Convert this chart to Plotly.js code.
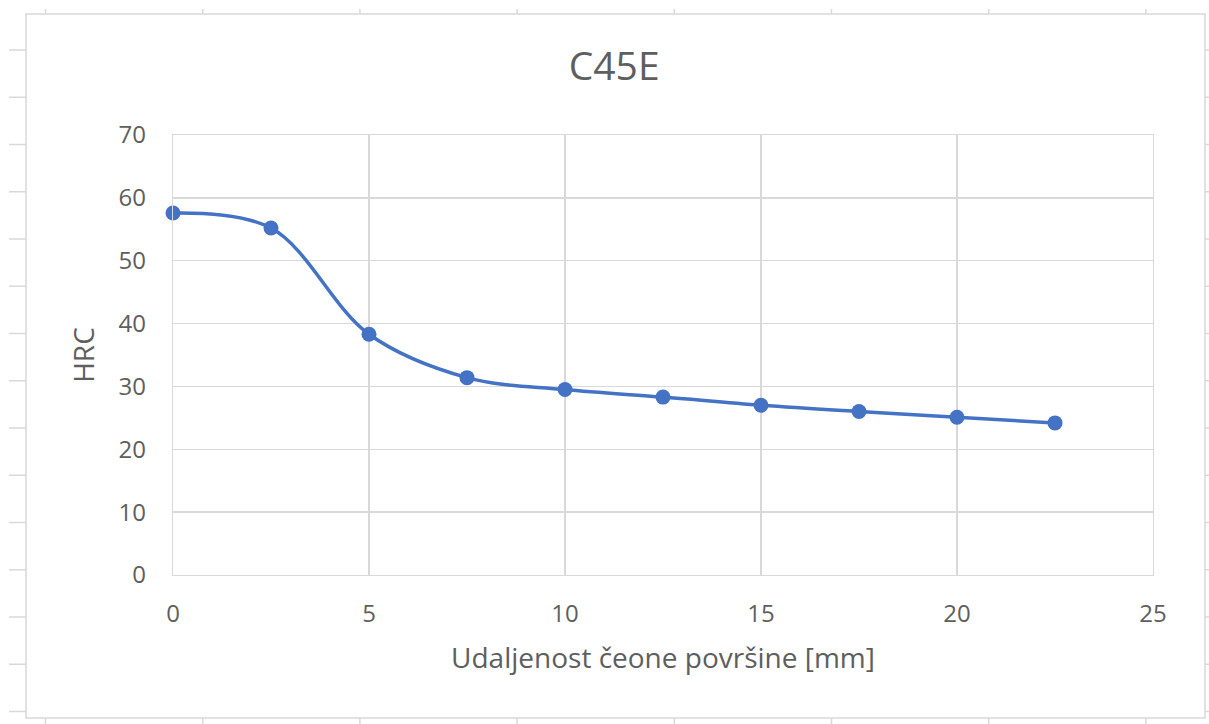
<!DOCTYPE html>
<html>
<head>
<meta charset="utf-8">
<script src="https://cdn.plot.ly/plotly-3.0.1.min.js"></script>
<style>
html,body{margin:0;padding:0;background:#ffffff;}
#chart{width:1209px;height:724px;}
</style>
</head>
<body>
<div id="chart"></div>
<script>
// Data
const distanceMm = [0, 2.5, 5, 7.5, 10, 12.5, 15, 17.5, 20, 22.5];
const hardnessHRC = [57.6, 55.2, 38.3, 31.4, 29.5, 28.3, 27.0, 26.0, 25.1, 24.2];
const xTickValues = [0, 5, 10, 15, 20, 25];
const yTickValues = [0, 10, 20, 30, 40, 50, 60, 70];
const chartTitle = "C45E";
const xAxisTitle = "Udaljenost čeone površine [mm]";
const yAxisTitle = "HRC";

const W = 1209, H = 724;
const L = 173, R = 1153, T = 135, B = 575;
const font = "'Open Sans', 'Noto Sans', sans-serif";
const grey = "#d9d9d9";
const textGrey = "#5e5e5e";

// pixel -> paper helpers (for the decorative chart frame)
const px = x => (x - L) / (R - L);
const py = y => (B - y) / (B - T);

const shapes = [];
// chart frame
shapes.push({type:'rect', xref:'paper', yref:'paper', x0:px(26), x1:px(1205), y0:py(14), y1:py(718),
  line:{color:grey, width:1.5}, fillcolor:'rgba(0,0,0,0)', layer:'below'});
// spreadsheet row ticks (left and right)
for (let k = 0; k <= 14; k++) {
  const y = 50 + 47.25 * k;
  shapes.push({type:'line', xref:'paper', yref:'paper', x0:px(9), x1:px(26), y0:py(y), y1:py(y), line:{color:grey, width:1.5}});
  shapes.push({type:'line', xref:'paper', yref:'paper', x0:px(1205), x1:px(1209), y0:py(y), y1:py(y), line:{color:grey, width:1.5}});
}
// spreadsheet column ticks (top and bottom)
for (let k = 0; k <= 7; k++) {
  const x = 45.5 + 157.2 * k;
  shapes.push({type:'line', xref:'paper', yref:'paper', x0:px(x), x1:px(x), y0:py(9), y1:py(14), line:{color:grey, width:1.5}});
  shapes.push({type:'line', xref:'paper', yref:'paper', x0:px(x), x1:px(x), y0:py(718), y1:py(724), line:{color:grey, width:1.5}});
}

const trace = {
  x: distanceMm,
  y: hardnessHRC,
  type: 'scatter',
  mode: 'lines+markers',
  line: {color:'#4472C4', width:3.5, shape:'spline', smoothing:1},
  marker: {color:'#4472C4', size:15},
  cliponaxis: false,
  hoverinfo: 'x+y'
};

const layout = {
  width: W, height: H,
  margin: {l: L, r: W - R, t: T, b: H - B, pad: 0},
  paper_bgcolor: '#ffffff',
  plot_bgcolor: '#ffffff',
  showlegend: false,
  font: {family: font, color: textGrey, size: 24},
  title: {text: chartTitle, font: {family: font, size: 39, color: textGrey},
          x: 0.508, xanchor: 'center', y: 1 - 66 / H, yanchor: 'middle'},
  xaxis: {
    range: [0, 25], tickvals: xTickValues, ticktext: xTickValues.map(String),
    showgrid: true, gridcolor: grey, gridwidth: 1.3,
    zeroline: false, showline: true, linecolor: grey, linewidth: 1.3, mirror: true,
    ticks: '', ticklabelstandoff: 17,
    tickfont: {family: font, size: 24, color: textGrey},
    title: {text: xAxisTitle, font: {family: font, size: 28, color: textGrey}, standoff: 20}
  },
  yaxis: {
    range: [0, 70], tickvals: yTickValues, ticktext: yTickValues.map(String),
    showgrid: true, gridcolor: grey, gridwidth: 1.3,
    zeroline: false, showline: true, linecolor: grey, linewidth: 1.3, mirror: true,
    ticks: '', ticklabelstandoff: 21,
    tickfont: {family: font, size: 24, color: textGrey},
    title: {text: yAxisTitle, font: {family: font, size: 28, color: textGrey}, standoff: 15}
  },
  shapes: shapes
};

Plotly.newPlot('chart', [trace], layout, {displayModeBar: false, staticPlot: true});
</script>
</body>
</html>
